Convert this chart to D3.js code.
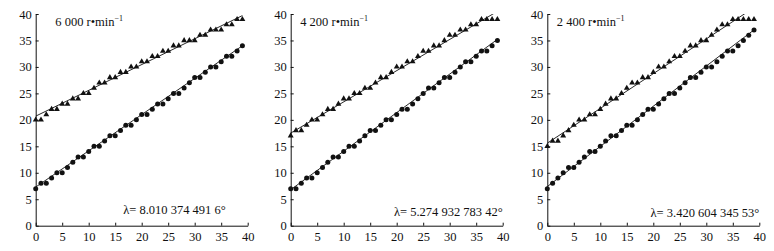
<!DOCTYPE html>
<html>
<head>
<meta charset="utf-8">
<script src="https://cdn.jsdelivr.net/npm/d3@7"></script>
<style>
  body { margin: 0; background: #fff; }
  .axis path, .axis line { stroke: #111; stroke-width: 1; }
</style>
</head>
<body>
<div id="chart"></div>
<script>
// x positions of the samples (same for every panel)
const xValues = d3.range(0, 40);
const ticks = [0, 5, 10, 15, 20, 25, 30, 35, 40];

// panel titles and lambda labels
const speeds = ['6 000', '4 200', '2 400'];
const lambdas = ['λ= 8.010 374 491 6°', 'λ= 5.274 932 783 42°', 'λ= 3.420 604 345 53°'];

// triangles (upper series)
const tri6000 = [20, 20, 21, 22, 22, 23, 23, 24, 24, 25, 25, 26, 27, 27, 28, 28, 29, 29, 30, 30,
                 31, 31, 32, 32, 33, 33, 34, 34, 35, 35, 35, 36, 36, 37, 37, 37, 38, 38, 39, 39];
const tri4200 = [17, 18, 18, 19, 20, 20, 21, 22, 22, 23, 24, 24, 25, 25, 26, 26, 27, 28, 28, 29,
                 30, 30, 31, 31, 32, 33, 33, 34, 34, 35, 36, 36, 37, 37, 38, 38, 39, 39, 39, 39];
const tri2400 = [15, 16, 16, 17, 18, 19, 20, 20, 21, 21, 22, 23, 24, 24, 25, 26, 27, 27, 28, 28,
                 29, 30, 30, 31, 32, 32, 33, 34, 34, 35, 35, 36, 37, 38, 38, 39, 39, 39, 39, 39];

// circles (lower series)
const dot6000 = [7, 8, 8, 9, 10, 10, 11, 12, 13, 13, 14, 15, 15, 16, 17, 17, 18, 19, 19, 20,
                 21, 21, 22, 23, 23, 24, 25, 25, 26, 27, 28, 28, 29, 30, 30, 31, 32, 32, 33, 34];
const dot4200 = [7, 7, 8, 9, 9, 10, 11, 12, 13, 13, 14, 15, 15, 16, 17, 18, 18, 19, 20, 20,
                 21, 22, 22, 23, 24, 25, 26, 26, 27, 28, 28, 29, 30, 31, 31, 32, 33, 33, 34, 35];
const dot2400 = [7, 8, 9, 10, 11, 11, 12, 13, 14, 14, 15, 16, 17, 17, 18, 19, 19, 20, 21, 22,
                 22, 23, 24, 25, 25, 26, 27, 28, 28, 29, 30, 30, 31, 32, 33, 33, 34, 35, 36, 37];

// fitted lines: value at x = 0 and at x = 39
const triFit = [[20.7, 39.7], [17.5, 40.5], [15.6, 41.2]];
const dotFit = [[7.3, 34.0], [6.8, 35.2], [7.4, 37.0]];

const panels = [
  {speed: speeds[0], lambda: lambdas[0], tri: tri6000, dot: dot6000, triFit: triFit[0], dotFit: dotFit[0]},
  {speed: speeds[1], lambda: lambdas[1], tri: tri4200, dot: dot4200, triFit: triFit[1], dotFit: dotFit[1]},
  {speed: speeds[2], lambda: lambdas[2], tri: tri2400, dot: dot2400, triFit: triFit[2], dotFit: dotFit[2]}
];

// layout of each panel
const lefts = [35.7, 290.7, 547.3],
      plotW = 212,
      plotTop = 14,
      plotBottom = 225.7,
      font = '"Liberation Serif", "Times New Roman", serif',
      ink = '#111';

const svg = d3.select('#chart').append('svg')
    .attr('width', 774)
    .attr('height', 251)
    .attr('font-family', font);

const triangle = d3.symbol().type(d3.symbolTriangle).size(15);

panels.forEach((p, i) => {
    const x = d3.scaleLinear().domain([0, 40]).range([lefts[i], lefts[i] + plotW]),
          y = d3.scaleLinear().domain([0, 40]).range([plotBottom, plotTop]);

    const g = svg.append('g');

    // clip so the fitted lines stop at the top of the axis
    g.append('clipPath')
        .attr('id', 'clip' + i)
        .append('rect')
        .attr('x', x(0))
        .attr('y', y(40))
        .attr('width', plotW)
        .attr('height', plotBottom - plotTop);

    // x axis
    g.append('g')
        .attr('class', 'axis')
        .attr('transform', `translate(0,${plotBottom})`)
        .call(d3.axisBottom(x).tickValues(ticks).tickSizeInner(-3).tickSizeOuter(0).tickPadding(6))
        .attr('font-family', font)
        .attr('font-size', 12.5)
        .selectAll('text').attr('fill', ink);

    // y axis
    g.append('g')
        .attr('class', 'axis')
        .attr('transform', `translate(${x(0)},0)`)
        .call(d3.axisLeft(y).tickValues(ticks).tickSizeInner(-3).tickSizeOuter(0).tickPadding(4))
        .attr('font-family', font)
        .attr('font-size', 12.5)
        .selectAll('text').attr('fill', ink);

    // fitted lines
    [p.triFit, p.dotFit].forEach(f => {
        g.append('line')
            .attr('clip-path', `url(#clip${i})`)
            .attr('x1', x(0)).attr('y1', y(f[0]))
            .attr('x2', x(39)).attr('y2', y(f[1]))
            .attr('stroke', ink)
            .attr('stroke-width', 0.9);
    });

    // triangles
    g.selectAll('.tri')
        .data(p.tri).enter()
        .append('path')
        .attr('d', triangle)
        .attr('transform', (d, j) => `translate(${x(xValues[j])},${y(d)})`)
        .attr('fill', ink);

    // circles
    g.selectAll('.dot')
        .data(p.dot).enter()
        .append('circle')
        .attr('cx', (d, j) => x(xValues[j]))
        .attr('cy', d => y(d))
        .attr('r', 2.5)
        .attr('fill', ink);

    // speed label
    const t = g.append('text')
        .attr('x', x(i === 0 ? 3.7 : 1.8))
        .attr('y', 26)
        .attr('fill', ink)
        .attr('font-size', 12.5);
    t.append('tspan').text(p.speed + ' r\u2022min');
    t.append('tspan').attr('dy', -5).attr('font-size', 8).text('\u22121');

    // lambda label
    g.append('text')
        .attr('x', x(40) - (i === 0 ? 22 : 0))
        .attr('y', 214 + i * 1.5)
        .attr('text-anchor', 'end')
        .attr('fill', ink)
        .attr('font-size', 12.5)
        .text(p.lambda);
});
</script>
</body>
</html>
